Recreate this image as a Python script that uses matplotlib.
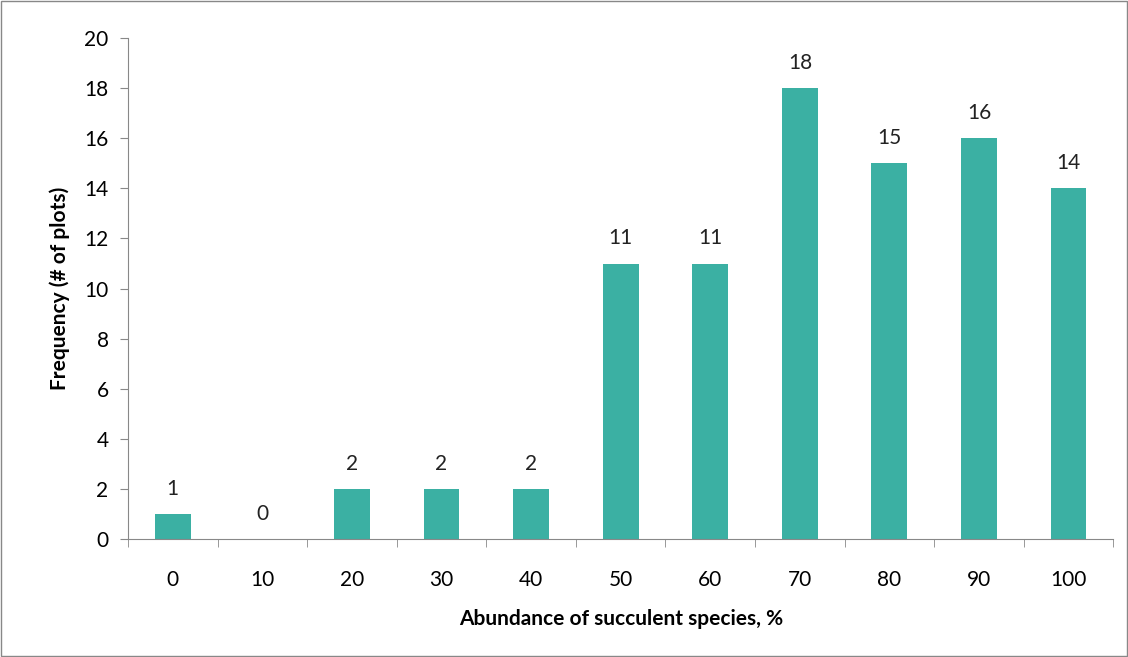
import matplotlib.pyplot as plt
import numpy as np

categories = ["0", "10", "20", "30", "40", "50", "60", "70", "80", "90", "100"]
frequency = [1, 0, 2, 2, 2, 11, 11, 18, 15, 16, 14]

plt.rcParams['font.family'] = ['Lato', 'DejaVu Sans']

fig = plt.figure(figsize=(11.28, 6.57), dpi=100)
ax = fig.add_axes([0.1135, 0.1796, 0.8735, 0.7624])

x = np.arange(len(categories))
ax.bar(x, frequency, width=0.4, color="#3BB0A3")
for xi, v in zip(x, frequency):
    ax.text(xi, v + 0.6, str(v), ha="center", va="bottom", fontsize=15, color="#222222")

ax.set_xlim(-0.5, len(categories) - 0.5)
ax.set_ylim(0, 20)
ax.set_yticks(range(0, 21, 2))
ax.set_xticks(x)
ax.set_xticklabels(categories)
ax.set_xticks(np.arange(-0.5, len(categories)), minor=True)
ax.tick_params(axis="x", which="major", length=0, pad=22, labelsize=15)
ax.tick_params(axis="x", which="minor", length=6, color="#888888", direction="out")
ax.tick_params(axis="y", length=6, color="#888888", labelsize=15, pad=8)
for s in ["top", "right"]:
    ax.spines[s].set_visible(False)
for s in ["left", "bottom"]:
    ax.spines[s].set_color("#888888")

ax.set_xlabel("Abundance of succulent species, %", fontsize=15, fontweight="bold", labelpad=14)
ax.set_ylabel("Frequency (# of plots)", fontsize=15, fontweight="bold", labelpad=10)

fig.patches.append(plt.Rectangle((0.001, 0.001), 0.998, 0.997, transform=fig.transFigure,
                                 fill=False, edgecolor="#888888", linewidth=1))

fig.savefig("out.png", dpi=100)
